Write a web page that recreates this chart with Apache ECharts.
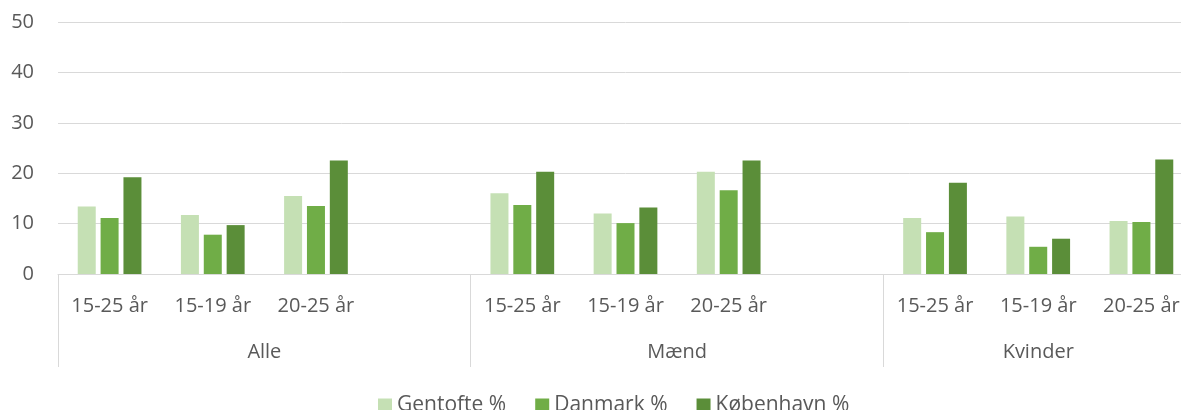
<!DOCTYPE html>
<html lang="da">
<head>
    <meta charset="utf-8">
    <script src="https://cdn.jsdelivr.net/npm/echarts@6/dist/echarts.min.js"></script>
    <title>bar_groups</title>
</head>
<body>
<style>
    html, body {
        margin: 0;
        overflow: hidden;
        background: #fff;
    }
    #main {
        width: 1225px;
        height: 410px;
    }
</style>
<div id='main'></div>
<script>
    // data
    var categories = ['15-25 år', '15-19 år', '20-25 år', '',
                      '15-25 år', '15-19 år', '20-25 år', '',
                      '15-25 år', '15-19 år', '20-25 år'];
    var groups = ['Alle', 'Mænd', 'Kvinder'];
    var groupSizes = [4, 4, 3];
    var gentofte = [13.4, 11.7, 15.5, null, 16.0, 12.0, 20.3, null, 11.1, 11.4, 10.5];
    var danmark = [11.1, 7.8, 13.5, null, 13.7, 10.1, 16.6, null, 8.3, 5.4, 10.3];
    var koebenhavn = [19.2, 9.7, 22.5, null, 20.3, 13.2, 22.5, null, 18.1, 7.0, 22.7];
    var yTicks = [0, 10, 20, 30, 40, 50];

    // group boundaries and centres (in category units)
    var bounds = [];
    var centers = [];
    var acc = 0;
    for (var i = 0; i < groupSizes.length; i++) {
        bounds.push(acc);
        centers.push(acc + groupSizes[i] / 2);
        acc += groupSizes[i];
    }

    var textColor = '#595959';
    var lineColor = '#d9d9d9';
    var font = 'Open Sans';

    var chart = echarts.init(document.getElementById('main'));
    var option = {
        animation: false,
        textStyle: {fontFamily: font},
        grid: {left: 58, right: 32, top: 22, bottom: 136},
        legend: {
            left: 378,
            top: 395,
            padding: 0,
            itemWidth: 14,
            itemHeight: 14,
            itemGap: 29,
            icon: 'rect',
            textStyle: {fontSize: 21, color: textColor, fontFamily: font}
        },
        xAxis: [{
            type: 'category',
            data: categories,
            axisLine: {lineStyle: {color: lineColor, width: 1}},
            axisTick: {
                show: true,
                length: 93,
                interval: function (index) {
                    return bounds.indexOf(index) >= 0;
                },
                lineStyle: {color: lineColor, width: 1}
            },
            axisLabel: {
                interval: 0,
                fontSize: 20,
                color: textColor,
                margin: 22
            }
        }, {
            type: 'value',
            position: 'bottom',
            min: 0,
            max: acc,
            axisLine: {show: false},
            axisTick: {show: false},
            splitLine: {show: false},
            axisLabel: {
                customValues: centers,
                fontSize: 20,
                color: textColor,
                margin: 68,
                formatter: function (v) {
                    var k = centers.indexOf(v);
                    return k >= 0 ? groups[k] : '';
                }
            }
        }],
        yAxis: {
            type: 'value',
            min: yTicks[0],
            max: yTicks[yTicks.length - 1],
            interval: 10,
            axisLine: {show: false},
            axisTick: {show: false},
            splitLine: {lineStyle: {color: lineColor, width: 1}},
            axisLabel: {fontSize: 20, color: textColor, margin: 24}
        },
        series: [{
            name: 'Gentofte %',
            type: 'bar',
            data: gentofte,
            barWidth: 18,
            barGap: '27%',
            itemStyle: {color: '#c5e0b4'}
        }, {
            name: 'Danmark %',
            type: 'bar',
            data: danmark,
            barWidth: 18,
            barGap: '27%',
            itemStyle: {color: '#70ad47'}
        }, {
            name: 'København %',
            type: 'bar',
            data: koebenhavn,
            barWidth: 18,
            barGap: '27%',
            itemStyle: {color: '#5b8e39'}
        }]
    };
    chart.setOption(option);
    window.onresize = chart.resize;
</script>
</body>
</html>
